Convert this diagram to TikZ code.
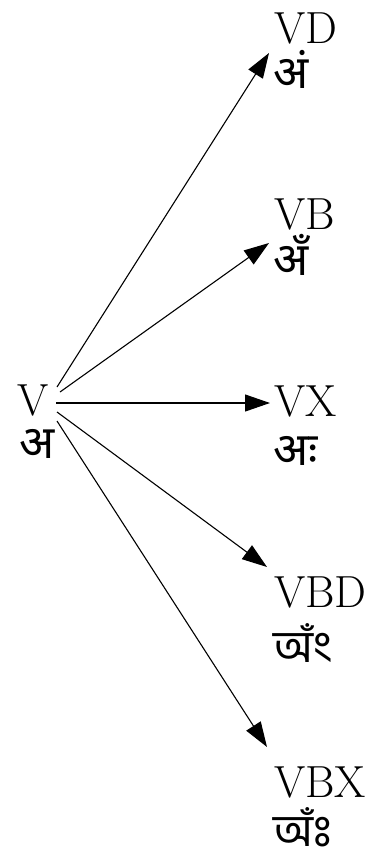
\documentclass[tikz,border=0pt]{standalone}
\usepackage{fontspec}
\newfontfamily\deva[Script=Devanagari]{Noto Sans}
\newfontfamily\beng[Script=Bengali]{Hind Siliguri}
\usetikzlibrary{arrows.meta}
\tikzset{
  lat/.style={inner sep=0pt, anchor=base west, font=\fontsize{45}{50}\selectfont},
  dv/.style={inner sep=0pt, anchor=base west, font=\deva\fontsize{46}{52}\selectfont},
  bn/.style={inner sep=0pt, anchor=base west, font=\beng\fontsize{45}{50}\selectfont},
  conn/.style={line width=1.1pt, -{Triangle[length=25pt,width=17pt]}}
}
\begin{document}
\begin{tikzpicture}[x=1pt,y=-1pt]
\useasboundingbox (0,0) rectangle (379,862);
% source
\node[lat] (V) at (17,415) {V};
\node[dv] (Va) at (19,458) {अ};
% targets
\node[lat] (VD) at (274,43) {VD};
\node[dv] (VDa) at (273,88) {अं};
\node[lat] (VB) at (274,229) {VB};
\node[dv] (VBa) at (273,275) {अँ};
\node[lat] (VX) at (274,416) {VX};
\node[dv] (VXa) at (273,465) {अः};
\node[lat] (VBD) at (274,607) {VBD};
\node[bn] (VBDa) at (273,662) {অঁং};
\node[lat] (VBX) at (274,797) {VBX};
\node[bn] (VBXa) at (273,846) {অঁঃ};
% connector ends
\coordinate (s1) at (57,387);
\coordinate (s2) at (60,392);
\coordinate (s3) at (56,403);
\coordinate (s4) at (57,412);
\coordinate (s5) at (57,421);
\coordinate (t1) at (269,53);
\coordinate (t2) at (269,243);
\coordinate (t3) at (270,403);
\coordinate (t4) at (267,567);
\coordinate (t5) at (267,747);
\draw[conn] (s1) -- (t1);
\draw[conn] (s2) -- (t2);
\draw[conn] (s3) -- (t3);
\draw[conn] (s4) -- (t4);
\draw[conn] (s5) -- (t5);
\end{tikzpicture}
\end{document}
